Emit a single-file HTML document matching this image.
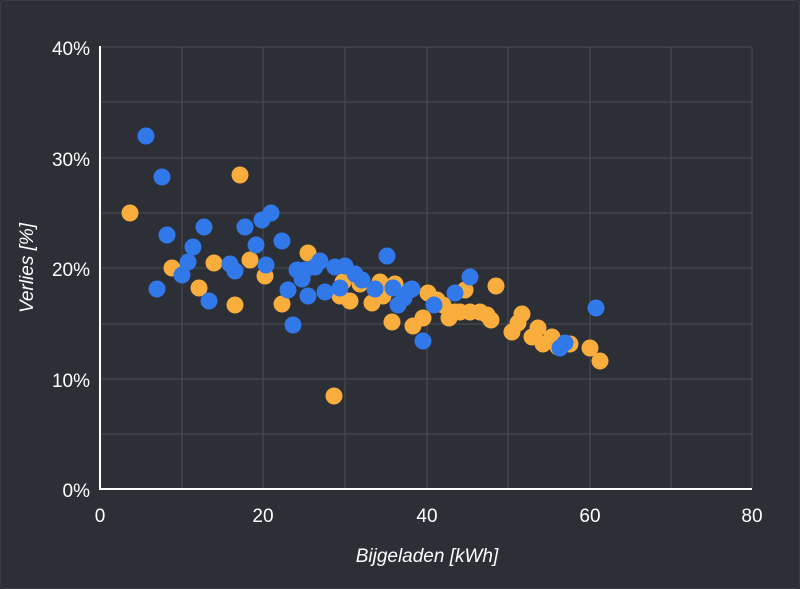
<!DOCTYPE html><html><head><style>html,body{margin:0;padding:0;background:#2c2f36;width:800px;height:589px;overflow:hidden}svg{display:block}</style></head><body>
<svg width="800" height="589" xmlns="http://www.w3.org/2000/svg" font-family="Liberation Sans, DejaVu Sans, sans-serif">
<rect x="0" y="0" width="800" height="589" fill="#2c2f36"/>
<rect x="0.5" y="0.5" width="799" height="588" rx="4" fill="none" stroke="#3a3d44"/>
<g stroke="#45484e" stroke-width="1.3">
<line x1="182" y1="47" x2="182" y2="489"/><line x1="263" y1="47" x2="263" y2="489"/><line x1="345" y1="47" x2="345" y2="489"/><line x1="427" y1="47" x2="427" y2="489"/><line x1="508" y1="47" x2="508" y2="489"/><line x1="590" y1="47" x2="590" y2="489"/><line x1="671" y1="47" x2="671" y2="489"/><line x1="752" y1="47" x2="752" y2="489"/>
<line x1="100" y1="47" x2="752" y2="47"/><line x1="100" y1="102" x2="752" y2="102"/><line x1="100" y1="158" x2="752" y2="158"/><line x1="100" y1="213" x2="752" y2="213"/><line x1="100" y1="268" x2="752" y2="268"/><line x1="100" y1="324" x2="752" y2="324"/><line x1="100" y1="379" x2="752" y2="379"/><line x1="100" y1="434" x2="752" y2="434"/>
</g>
<line x1="100" y1="46" x2="100" y2="490" stroke="#fff" stroke-width="2"/>
<line x1="99" y1="489" x2="752" y2="489" stroke="#fff" stroke-width="2"/>
<g fill="#fff" font-size="19" text-anchor="end">
<text x="90" y="55">40%</text><text x="90" y="166">30%</text><text x="90" y="276">20%</text><text x="90" y="387">10%</text><text x="90" y="497">0%</text></g>
<g fill="#fff" font-size="19" text-anchor="middle">
<text x="100" y="522">0</text><text x="263" y="522">20</text><text x="427" y="522">40</text><text x="590" y="522">60</text><text x="752" y="522">80</text>
<text x="427" y="562" font-style="italic">Bijgeladen [kWh]</text>
<text transform="translate(33,268) rotate(-90)" font-style="italic">Verlies [%]</text></g>
<g fill="#f8ad3c">
<circle cx="130" cy="213" r="8.5"/><circle cx="172" cy="268" r="8.5"/><circle cx="199" cy="288" r="8.5"/><circle cx="214" cy="263" r="8.5"/><circle cx="235" cy="305" r="8.5"/><circle cx="240" cy="175" r="8.5"/><circle cx="250" cy="260" r="8.5"/><circle cx="265" cy="276" r="8.5"/><circle cx="282" cy="304" r="8.5"/><circle cx="308" cy="253" r="8.5"/><circle cx="334" cy="396" r="8.5"/><circle cx="340" cy="296" r="8.5"/><circle cx="343" cy="282" r="8.5"/><circle cx="350" cy="301" r="8.5"/><circle cx="360" cy="284" r="8.5"/><circle cx="372" cy="303" r="8.5"/><circle cx="380" cy="282" r="8.5"/><circle cx="383" cy="296" r="8.5"/><circle cx="392" cy="322" r="8.5"/><circle cx="413" cy="326" r="8.5"/><circle cx="423" cy="318" r="8.5"/><circle cx="428" cy="293" r="8.5"/><circle cx="443" cy="305" r="8.5"/><circle cx="449" cy="318" r="8.5"/><circle cx="455" cy="312" r="8.5"/><circle cx="465" cy="290" r="8.5"/><circle cx="470" cy="312" r="8.5"/><circle cx="480" cy="312" r="8.5"/><circle cx="487" cy="315" r="8.5"/><circle cx="491" cy="320" r="8.5"/><circle cx="496" cy="286" r="8.5"/><circle cx="512" cy="332" r="8.5"/><circle cx="518" cy="323" r="8.5"/><circle cx="522" cy="314" r="8.5"/><circle cx="532" cy="337" r="8.5"/><circle cx="538" cy="328" r="8.5"/><circle cx="543" cy="344" r="8.5"/><circle cx="552" cy="337" r="8.5"/><circle cx="558" cy="347" r="8.5"/><circle cx="570" cy="344" r="8.5"/><circle cx="590" cy="348" r="8.5"/><circle cx="600" cy="361" r="8.5"/><circle cx="395" cy="284" r="8.5"/><circle cx="437" cy="300" r="8.5"/><circle cx="460" cy="312" r="8.5"/>
</g>
<g fill="#3178e8">
<circle cx="146" cy="136" r="8.5"/><circle cx="157" cy="289" r="8.5"/><circle cx="162" cy="177" r="8.5"/><circle cx="167" cy="235" r="8.5"/><circle cx="182" cy="275" r="8.5"/><circle cx="188" cy="262" r="8.5"/><circle cx="193" cy="247" r="8.5"/><circle cx="204" cy="227" r="8.5"/><circle cx="209" cy="301" r="8.5"/><circle cx="230" cy="264" r="8.5"/><circle cx="235" cy="271" r="8.5"/><circle cx="245" cy="227" r="8.5"/><circle cx="256" cy="245" r="8.5"/><circle cx="262" cy="220" r="8.5"/><circle cx="266" cy="265" r="8.5"/><circle cx="271" cy="213" r="8.5"/><circle cx="282" cy="241" r="8.5"/><circle cx="288" cy="290" r="8.5"/><circle cx="293" cy="325" r="8.5"/><circle cx="297" cy="270" r="8.5"/><circle cx="302" cy="279" r="8.5"/><circle cx="305" cy="270" r="8.5"/><circle cx="308" cy="296" r="8.5"/><circle cx="315" cy="267" r="8.5"/><circle cx="320" cy="261" r="8.5"/><circle cx="325" cy="292" r="8.5"/><circle cx="335" cy="267" r="8.5"/><circle cx="340" cy="288" r="8.5"/><circle cx="345" cy="266" r="8.5"/><circle cx="355" cy="274" r="8.5"/><circle cx="362" cy="280" r="8.5"/><circle cx="375" cy="289" r="8.5"/><circle cx="387" cy="256" r="8.5"/><circle cx="393" cy="288" r="8.5"/><circle cx="398" cy="305" r="8.5"/><circle cx="404" cy="298" r="8.5"/><circle cx="410" cy="290" r="8.5"/><circle cx="412" cy="289" r="8.5"/><circle cx="423" cy="341" r="8.5"/><circle cx="434" cy="305" r="8.5"/><circle cx="455" cy="293" r="8.5"/><circle cx="470" cy="277" r="8.5"/><circle cx="560" cy="348" r="8.5"/><circle cx="565" cy="343" r="8.5"/><circle cx="596" cy="308" r="8.5"/>
</g>
</svg>
</body></html>
